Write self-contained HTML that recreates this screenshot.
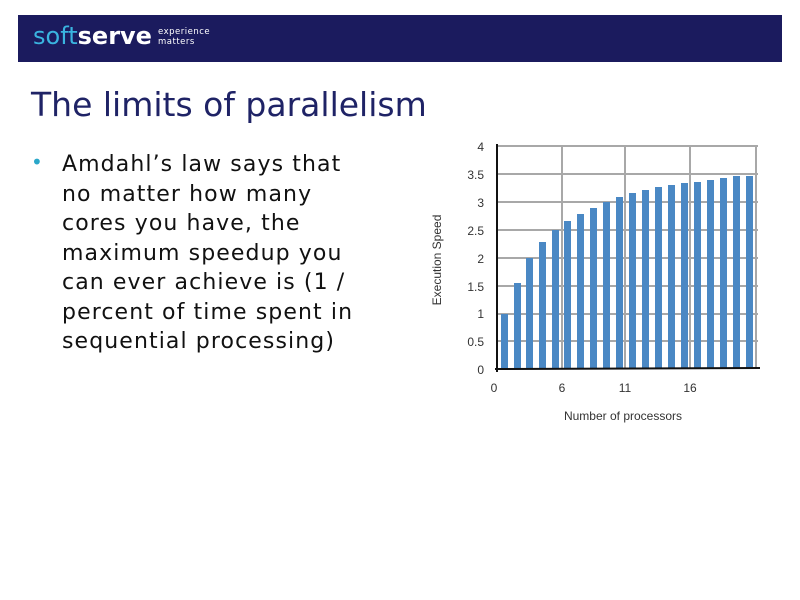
<!DOCTYPE html>
<html><head><style>
body{margin:0;width:800px;height:600px;background:#fff;position:relative;overflow:hidden;font-family:"DejaVu Sans","Liberation Sans",sans-serif}
.hdr{position:absolute;left:18px;top:15px;width:764px;height:47px;background:#1b1b5e}
.logo{position:absolute;left:15px;top:7px;font-size:24px;letter-spacing:0px}
.tag{position:absolute;left:140px;top:12px;font-size:8.5px;color:#fff;line-height:10px;letter-spacing:0.5px}
h1{position:absolute;left:31px;top:85px;margin:0;font-weight:normal;font-size:33px;color:#1f2366}
.txt{position:absolute;left:62px;top:150px;font-size:22px;letter-spacing:1.1px;line-height:29.5px;color:#111;white-space:nowrap}
.dot{position:absolute;left:31px;top:150px;font-size:20px;color:#2aa7c9}
</style></head><body>
<div class="hdr"><div class="logo"><span style="color:#3ab4e0">soft</span><span style="color:#fff;font-weight:bold">serve</span></div><div class="tag">experience<br>matters</div></div>
<h1>The limits of parallelism</h1>
<div class="dot">•</div>
<div class="txt">Amdahl’s law says that<br>no matter how many<br>cores you have, the<br>maximum speedup you<br>can ever achieve is (1 /<br>percent of time spent in<br>sequential processing)</div>
<svg width="800" height="600" style="position:absolute;left:0;top:0" font-family="Liberation Sans, sans-serif">
<g stroke="#a8a8a8" stroke-width="2" fill="none">
<line x1="497" y1="146" x2="758" y2="146"/><line x1="497" y1="174" x2="758" y2="174"/><line x1="497" y1="202" x2="758" y2="202"/><line x1="497" y1="230" x2="758" y2="230"/><line x1="497" y1="258" x2="758" y2="258"/><line x1="497" y1="286" x2="758" y2="286"/><line x1="497" y1="314" x2="758" y2="314"/><line x1="497" y1="341" x2="758" y2="341"/>
<line x1="562" y1="146" x2="562" y2="369"/><line x1="625" y1="146" x2="625" y2="369"/><line x1="690" y1="146" x2="690" y2="369"/><line x1="756" y1="146" x2="756" y2="369"/>
</g>
<g fill="#4a88c4">
<rect x="501" y="314" width="7" height="55"/><rect x="514" y="283" width="7" height="86"/><rect x="526" y="258" width="7" height="111"/><rect x="539" y="242" width="7" height="127"/><rect x="552" y="230" width="7" height="139"/><rect x="564" y="221" width="7" height="148"/><rect x="577" y="214" width="7" height="155"/><rect x="590" y="208" width="7" height="161"/><rect x="603" y="202" width="7" height="167"/><rect x="616" y="197" width="7" height="172"/><rect x="629" y="193" width="7" height="176"/><rect x="642" y="190" width="7" height="179"/><rect x="655" y="187" width="7" height="182"/><rect x="668" y="185" width="7" height="184"/><rect x="681" y="183" width="7" height="186"/><rect x="694" y="182" width="7" height="187"/><rect x="707" y="180" width="7" height="189"/><rect x="720" y="178" width="7" height="191"/><rect x="733" y="176" width="7" height="193"/><rect x="746" y="176" width="7" height="193"/>
</g>
<line x1="497" y1="144" x2="497" y2="372" stroke="#111" stroke-width="2"/>
<line x1="495" y1="369" x2="760" y2="368" stroke="#111" stroke-width="2"/>
<g font-size="12" fill="#333" text-anchor="end">
<text x="484" y="151">4</text><text x="484" y="179">3.5</text><text x="484" y="207">3</text><text x="484" y="235">2.5</text><text x="484" y="263">2</text><text x="484" y="291">1.5</text><text x="484" y="318">1</text><text x="484" y="346">0.5</text><text x="484" y="374">0</text>
</g>
<g font-size="12" fill="#333" text-anchor="middle">
<text x="494" y="392">0</text><text x="562" y="392">6</text><text x="625" y="392">11</text><text x="690" y="392">16</text>
<text x="623" y="420">Number of processors</text>
</g>
<text x="0" y="0" font-size="12" fill="#333" text-anchor="middle" transform="translate(441,260) rotate(-90)">Execution Speed</text>
</svg>
</body></html>
